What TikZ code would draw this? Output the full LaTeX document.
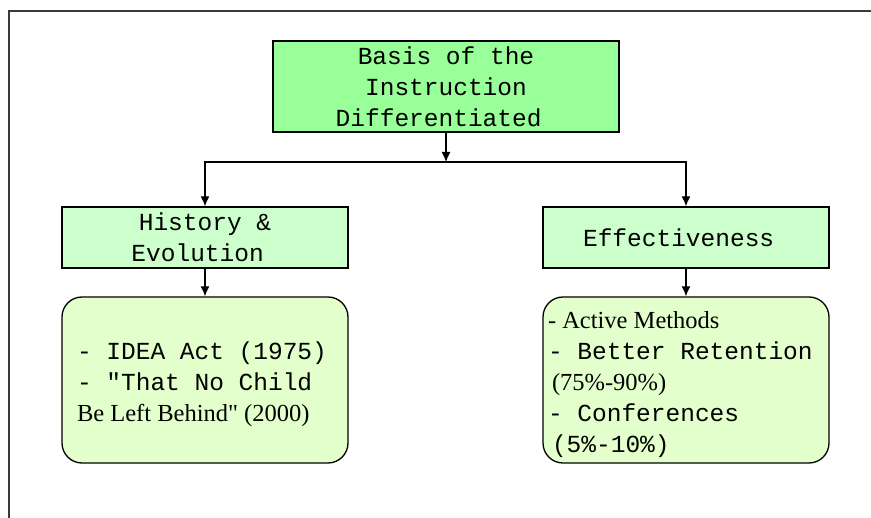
\documentclass[tikz,border=0pt]{standalone}
\usepackage{fontspec}
\setmainfont{Liberation Serif}
\setmonofont{Liberation Mono}
\newfontfamily\serifnq{Liberation Serif}
\usetikzlibrary{arrows.meta}
\definecolor{topgreen}{HTML}{99FF99}
\definecolor{midgreen}{HTML}{CCFFCC}
\definecolor{lowgreen}{HTML}{E2FFCC}
\definecolor{framegray}{HTML}{3A3A3A}
\begin{document}
\begin{tikzpicture}[x=1pt,y=-1pt,
  every node/.style={font=\fontsize{24.5}{31}\selectfont, text=black},
  box/.style={draw=black, line width=1.3pt, inner sep=0pt},
  sqbox/.style={box, minimum width=286pt, minimum height=61pt, fill=midgreen, align=center},
  roundbox/.style={box, rounded corners=20pt, minimum width=286pt, minimum height=166pt, fill=lowgreen, align=flush left},
  arr/.style={line width=1.3pt, -{Latex[length=10pt,width=9pt]}},
  link/.style={line width=1.3pt}]
\useasboundingbox (0,0) rectangle (871,518);
\fill[white] (0,0) rectangle (871,518);
\draw[framegray, line width=2pt] (871,11) -- (9,11) -- (9,518);

\node[box, fill=topgreen, minimum width=346pt, minimum height=91pt, align=center] (top) at (446,86.5)
  {\ttfamily Basis of the\\\ttfamily Instruction\\\ttfamily Differentiated\phantom{x}};

\node[sqbox] (hist) at (205,237.5) {\ttfamily History \&\\\ttfamily Evolution\phantom{x}};
\node[sqbox] (eff) at (686,237.5) {\ttfamily Effectiveness\phantom{x}};

\node[roundbox, inner xsep=15pt, text width=256pt] (histd) at (205,380)
  {\rule{0pt}{26pt}{\ttfamily - IDEA Act (1975)}\\{\ttfamily - "That No Child}\\{\serifnq Be Left Behind" (2000)}};
\node[roundbox, inner xsep=5pt, text width=276pt] (effd) at (686,380)
  {\rule{0pt}{26pt}{\serifnq - Active Methods}\\{\ttfamily - Better Retention}\\\hspace*{4pt}{\serifnq (75\%-90\%)}\\{\ttfamily - Conferences}\\\hspace*{4pt}{\ttfamily (5\%-10\%)}};

\coordinate (j) at (446,162);
\draw[arr] (top.south) -- (j);
\draw[arr] (j) -| (hist.north);
\draw[arr] (j) -| (eff.north);
\draw[arr] (hist.south) -- (histd.north);
\draw[arr] (eff.south) -- (effd.north);
\end{tikzpicture}
\end{document}
